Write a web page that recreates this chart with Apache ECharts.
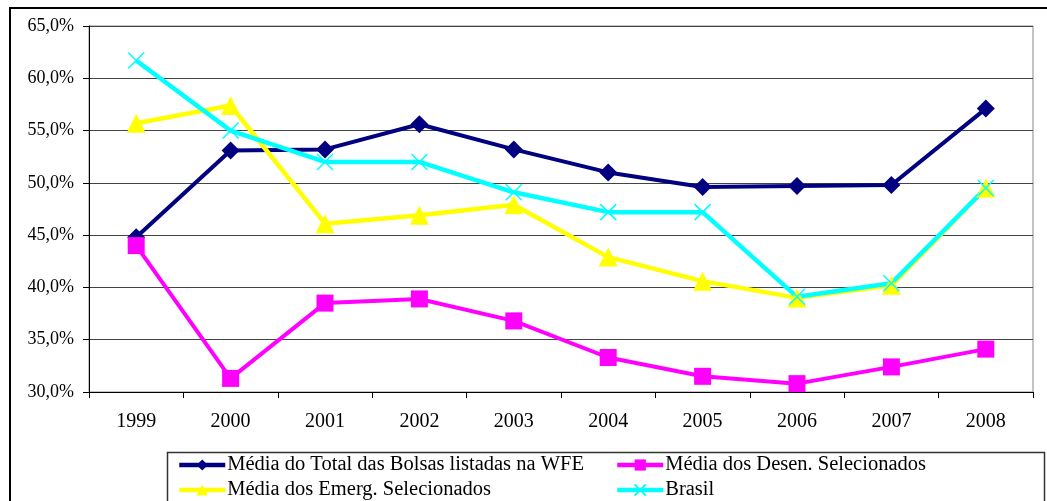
<!DOCTYPE html>
<html>
<head>
<meta charset="utf-8">
<script src="https://cdn.jsdelivr.net/npm/echarts@6/dist/echarts.min.js"></script>
<style>
	html, body {margin: 0; padding: 0; background: #fff;}
	#chart {width: 1047px; height: 501px;}
</style>
</head>
<body>
<div id="chart"></div>
<script>
const years = ['1999', '2000', '2001', '2002', '2003', '2004', '2005', '2006', '2007', '2008'];
const seriesNames = [
	'Média do Total das Bolsas listadas na WFE',
	'Média dos Desen. Selecionados',
	'Média dos Emerg. Selecionados',
	'Brasil',
];
const totalWfe = [44.8, 53.1, 53.2, 55.6, 53.2, 51.0, 49.6, 49.7, 49.8, 57.1];
const desenvolvidos = [44.0, 31.3, 38.5, 38.9, 36.8, 33.3, 31.5, 30.8, 32.4, 34.1];
const emergentes = [55.7, 57.4, 46.1, 46.9, 47.9, 42.9, 40.6, 39.0, 40.2, 49.5];
const brasil = [61.7, 55.0, 52.0, 52.0, 49.1, 47.2, 47.2, 39.1, 40.4, 49.5];
const yTicks = {min: 30, max: 65, interval: 5};

const font = 'Liberation Serif';
const crossPath = 'path://M0,0L10,10M10,0L0,10';

function line(name, data, color, symbol, size, width) {
	return {
		name,
		data,
		type: 'line',
		symbol,
		symbolSize: size,
		showAllSymbol: true,
		lineStyle: {width, color},
		itemStyle: {color},
		emphasis: {disabled: true},
	};
}

function legend(names, left) {
	return {
		data: names,
		orient: 'vertical',
		left,
		top: 453,
		height: 60,
		padding: 0,
		itemWidth: 46,
		itemHeight: 14,
		itemGap: 1,
		lineStyle: {width: 4.5},
		textStyle: {fontFamily: font, fontSize: 20.5, lineHeight: 24, color: '#000', padding: [0, 0, 0, -3]},
	};
}

function getOptions() {
	const brasilSeries = line(seriesNames[3], brasil, '#00FFFF', crossPath, 16, 4.5);
	brasilSeries.itemStyle = {color: 'rgba(0,0,0,0)', borderColor: '#00FFFF', borderWidth: 1.5};

	return {
		animation: false,
		textStyle: {fontFamily: font, color: '#000'},
		tooltip: {show: false},
		legend: [
			legend([seriesNames[0], seriesNames[2]], 177),
			legend([seriesNames[1], seriesNames[3]], 615),
		],
		grid: {
			show: true,
			borderColor: '#888',
			borderWidth: 1,
			left: 89,
			top: 26,
			right: 14,
			bottom: 109,
		},
		xAxis: {
			type: 'category',
			boundaryGap: true,
			data: years,
			axisLine: {lineStyle: {color: '#000', width: 1}},
			axisTick: {show: true, length: 6, lineStyle: {color: '#000'}},
			axisLabel: {margin: 20, fontSize: 20, fontFamily: font, color: '#000'},
			splitLine: {show: false},
		},
		yAxis: {
			type: 'value',
			min: yTicks.min,
			max: yTicks.max,
			interval: yTicks.interval,
			axisLine: {show: true, lineStyle: {color: '#000', width: 1}},
			axisTick: {show: true, length: 6, lineStyle: {color: '#000'}},
			axisLabel: {
				margin: 15,
				fontSize: 18,
				fontFamily: font,
				color: '#000',
				formatter: v => v.toFixed(1).replace('.', ',') + '%',
			},
			splitLine: {show: true, lineStyle: {color: '#444', width: 1}},
		},
		graphic: [
			{
				type: 'rect',
				shape: {x: 10, y: 8, width: 1060, height: 520},
				style: {fill: null, stroke: '#000', lineWidth: 2},
				silent: true,
			},
			{
				type: 'rect',
				shape: {x: 167.5, y: 452.5, width: 877, height: 70},
				style: {fill: null, stroke: '#333', lineWidth: 1.5},
				silent: true,
			},
		],
		series: [
			line(seriesNames[0], totalWfe, '#000080', 'diamond', 18, 4),
			line(seriesNames[1], desenvolvidos, '#FF00FF', 'rect', 17, 4),
			line(seriesNames[2], emergentes, '#FFFF00', 'triangle', 19, 4.5),
			brasilSeries,
		],
	};
}

const node = document.getElementById('chart');
const myChart = echarts.init(node);
myChart.setOption(getOptions());
</script>
</body>
</html>
